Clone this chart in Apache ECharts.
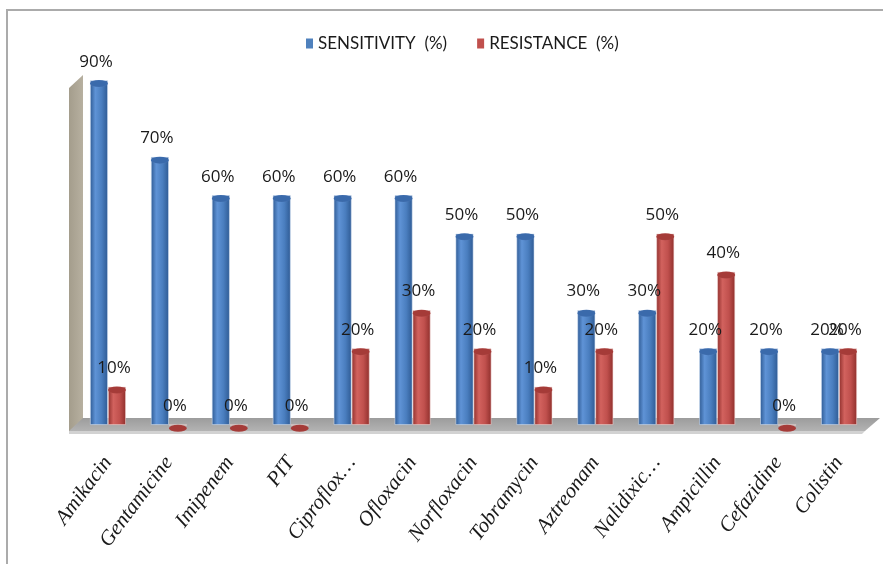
<!DOCTYPE html>
<html>
<head>
<meta charset="utf-8">
<script src="https://cdn.jsdelivr.net/npm/echarts@6/dist/echarts.min.js"></script>
<style>
  html, body { margin: 0; padding: 0; background: #fff; }
  #chart { width: 883px; height: 564px; }
</style>
</head>
<body>
<div id="chart"></div>
<script>
// Antibiotic susceptibility: sensitivity vs resistance per drug
const categories = ['Amikacin', 'Gentamicine', 'Imipenem', 'PIT', 'Ciproflox…', 'Ofloxacin',
  'Norfloxacin', 'Tobramycin', 'Aztreonam', 'Nalidixic…', 'Ampicillin', 'Cefazidine', 'Colistin'];
const sensitivity = [90, 70, 60, 60, 60, 60, 50, 50, 30, 30, 20, 20, 20];
const resistance = [10, 0, 0, 0, 20, 30, 20, 10, 20, 50, 40, 0, 20];
const seriesNames = ['SENSITIVITY  (%)', 'RESISTANCE  (%)'];
const seriesColors = ['#4f81bd', '#c0504d'];

const W = 883, H = 564;
const grid = { left: 77.5, right: 13.5, top: 42, bottom: 139 };
const baseY = H - grid.bottom;

function cylinder(dark, mid, light) {
  return new echarts.graphic.LinearGradient(0, 0, 1, 0, [
    { offset: 0, color: dark },
    { offset: 0.3, color: light },
    { offset: 0.65, color: mid },
    { offset: 1, color: dark }
  ]);
}

const labelStyle = {
  show: true,
  position: 'top',
  distance: 10,
  offset: [-3, 0],
  formatter: '{c}%',
  fontFamily: 'Open Sans',
  fontSize: 17,
  color: '#1a1a1a'
};

const chart = echarts.init(document.getElementById('chart'), null, { renderer: 'canvas' });

chart.setOption({
  backgroundColor: '#fff',
  animation: false,
  grid: grid,
  legend: {
    data: seriesNames.map((n, i) => ({ name: n, itemStyle: { color: seriesColors[i], borderWidth: 0 } })),
    top: 30,
    left: 301,
    itemWidth: 7,
    itemHeight: 10,
    itemGap: 30,
    icon: 'rect',
    textStyle: { fontFamily: 'Lato', fontSize: 17, color: '#1a1a1a' }
  },
  xAxis: {
    type: 'category',
    data: categories,
    axisLine: { show: false },
    axisTick: { show: false },
    axisLabel: {
      interval: 0,
      rotate: 53,
      margin: 34,
      fontFamily: 'Liberation Serif',
      fontStyle: 'italic',
      fontSize: 21,
      color: '#1a1a1a'
    }
  },
  yAxis: {
    type: 'value',
    min: 0,
    max: 100,
    show: false,
    splitLine: { show: false }
  },
  graphic: [
    // outer frame
    { type: 'line', z: 0, shape: { x1: 6, y1: 10, x2: W, y2: 10 }, style: { stroke: '#ababab', lineWidth: 2 } },
    { type: 'line', z: 0, shape: { x1: 7, y1: 9, x2: 7, y2: H }, style: { stroke: '#ababab', lineWidth: 2 } },
    // side wall
    { type: 'polygon', z: 0, shape: { points: [[69, 88], [83, 75], [83, baseY - 6], [69, baseY + 7]] },
      style: { fill: new echarts.graphic.LinearGradient(0, 0, 1, 0, [
        { offset: 0, color: '#a49d8c' }, { offset: 1, color: '#b7b0a0' }]) } },
    // floor
    { type: 'polygon', z: 0, shape: { points: [[83, baseY - 7], [880, baseY - 7], [865, baseY + 6], [69, baseY + 6]] },
      style: { fill: new echarts.graphic.LinearGradient(0, 0, 0, 1, [
        { offset: 0, color: '#9c9c9c' }, { offset: 1, color: '#b3b3b3' }]) } },
    { type: 'polygon', z: 0, shape: { points: [[69, baseY + 6], [865, baseY + 6], [862, baseY + 9], [69, baseY + 9]] },
      style: { fill: '#d2d2d2' } }
  ],
  series: [
    {
      name: seriesNames[0],
      type: 'bar',
      data: sensitivity,
      barWidth: 18,
      barGap: '0%',
      z: 2,
      itemStyle: { color: cylinder('#2e5a93', '#4a7ebf', '#5f93d6'), borderColor: 'rgba(210,225,245,0.7)', borderWidth: 0.8 },
      label: labelStyle
    },
    {
      name: seriesNames[1],
      type: 'bar',
      data: resistance,
      barWidth: 18,
      barGap: '0%',
      z: 2,
      itemStyle: { color: cylinder('#8f2f2c', '#c0504d', '#d2625e'), borderColor: 'rgba(245,215,214,0.7)', borderWidth: 0.8 },
      label: labelStyle
    },
    {
      name: seriesNames[0] + ' cap',
      type: 'pictorialBar',
      data: sensitivity,
      barWidth: 18,
      barGap: '0%',
      symbol: 'circle',
      symbolSize: [18, 7],
      symbolPosition: 'end',
      symbolOffset: [0, '-10%'],
      z: 3,
      itemStyle: { color: '#3a6aab', borderColor: '#d9e6f7', borderWidth: 1.4 },
      tooltip: { show: false }
    },
    {
      name: seriesNames[1] + ' cap',
      type: 'pictorialBar',
      data: resistance,
      barWidth: 18,
      barGap: '0%',
      symbol: 'circle',
      symbolSize: [18, 7],
      symbolPosition: 'end',
      symbolOffset: [0, '-10%'],
      z: 3,
      itemStyle: { color: '#a53b38', borderColor: '#f6d4d2', borderWidth: 1.4 },
      tooltip: { show: false }
    }
  ]
});
</script>
</body>
</html>
